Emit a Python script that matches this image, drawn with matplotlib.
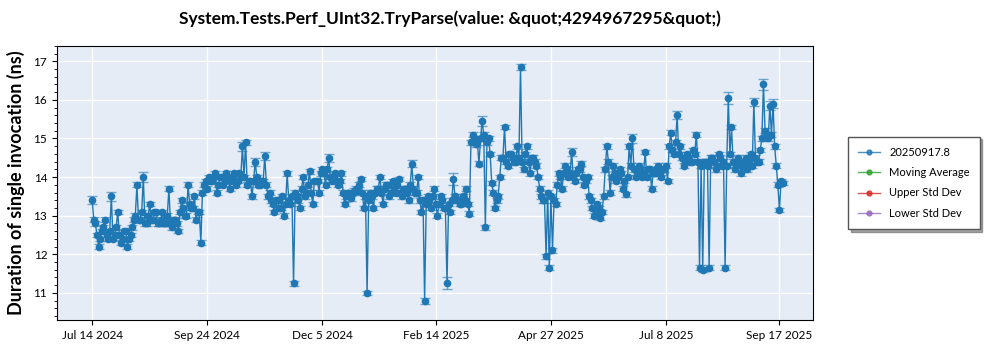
import numpy as np
import pandas as pd
import matplotlib
matplotlib.use("Agg")
import matplotlib.pyplot as plt
from matplotlib.lines import Line2D

plt.rcParams["font.family"] = ["Lato", "DejaVu Sans"]

# daily runs, Jul 14 2024 .. Sep 17 2025
first_run = "2024-07-14"

# runs on even days (counted from the first run)
even_runs = [
    13.4, 12.8, 12.2, 12.6, 12.9, 12.4, 13.5, 12.5, 13.1, 12.3,
    12.6, 12.2, 12.5, 12.9, 13.8, 12.9, 14.0, 12.8, 13.3, 12.9,
    13.1, 12.8, 13.1, 12.8, 13.7, 12.7, 12.9, 12.6, 13.4, 13.0,
    13.8, 13.2, 13.5, 13.1, 12.3, 13.8, 13.7, 13.9, 14.0, 13.6,
    14.0, 13.8, 14.1, 13.7, 14.0, 13.8, 14.1, 14.8, 14.9, 13.9,
    13.5, 14.4, 13.8, 13.9, 14.55, 13.5, 13.4, 13.1, 13.4, 13.2,
    13.0, 14.1, 13.3, 11.25, 13.5, 13.2, 14.0, 13.6, 14.15, 13.3,
    13.9, 13.6, 14.2, 13.8, 14.5, 13.9, 14.1, 13.8, 14.1, 13.3,
    13.6, 13.45, 13.65, 13.65, 13.95, 13.2, 11.0, 13.6, 13.2, 13.7,
    14.0, 13.3, 13.8, 13.5, 13.9, 13.6, 13.95, 13.5, 13.7, 13.4,
    14.35, 13.6, 14.0, 13.1, 10.8, 13.5, 13.2, 13.7, 13.0, 13.5,
    13.2, 11.25, 13.1, 13.95, 13.4, 13.3, 13.5, 13.7, 13.05, 15.1,
    14.85, 14.35, 15.45, 12.7, 15.0, 13.85, 13.2, 13.5, 14.5, 15.3,
    14.3, 14.6, 14.4, 14.8, 16.85, 14.2, 14.8, 14.1, 14.5, 14.3,
    13.7, 13.4, 11.95, 11.65, 12.1, 13.3, 14.1, 13.7, 14.3, 14.0,
    14.65, 13.9, 14.2, 14.35, 13.8, 14.0, 13.4, 13.0, 13.3, 12.95,
    13.5, 14.8, 13.6, 14.3, 13.9, 14.2, 13.7, 13.55, 14.8, 15.0,
    14.0, 14.3, 14.0, 14.65, 14.2, 13.7, 14.1, 14.3, 14.0, 14.2,
    13.9, 15.15, 14.6, 15.6, 14.8, 14.3, 14.6, 14.4, 14.7, 15.1,
    11.65, 11.6, 14.4, 11.65, 14.5, 14.2, 14.6, 14.3, 11.65, 16.05,
    15.3, 14.2, 14.5, 14.1, 14.4, 14.2, 14.6, 15.95, 14.4, 14.7,
    16.4, 15.1, 15.85, 15.9, 14.3, 13.15, 13.85,
]

# runs on odd days
odd_runs = [
    12.9, 12.5, 12.4, 12.7, 12.5, 12.6, 12.4, 12.7, 12.5, 12.4,
    12.6, 12.4, 12.7, 13.0, 12.9, 13.1, 12.8, 13.0, 12.9, 13.1,
    12.8, 12.9, 12.8, 13.0, 12.8, 12.9, 12.8, 13.1, 13.2, 13.0,
    13.3, 13.2, 12.9, 13.1, 13.6, 13.9, 14.0, 13.9, 14.1, 13.8,
    14.0, 13.9, 14.0, 13.9, 14.1, 13.9, 14.0, 14.0, 13.8, 13.9,
    13.9, 14.0, 13.8, 13.9, 13.8, 13.6, 13.3, 13.4, 13.2, 13.5,
    13.3, 13.4, 13.5, 13.6, 13.4, 13.7, 13.5, 13.8, 13.6, 13.9,
    13.9, 14.1, 14.1, 14.2, 14.0, 14.0, 13.9, 13.9, 13.6, 13.5,
    13.5, 13.6, 13.7, 13.8, 13.6, 13.5, 13.4, 13.5, 13.6, 13.7,
    13.6, 13.7, 13.8, 13.6, 13.7, 13.8, 13.6, 13.7, 13.6, 13.8,
    13.7, 13.6, 13.4, 13.4, 13.3, 13.4, 13.5, 13.3, 13.3, 13.4,
    13.2, 13.3, 13.4, 13.5, 13.4, 13.3, 13.4, 13.3, 14.9, 15.0,
    14.9, 15.0, 15.1, 14.9, 14.6, 13.6, 13.4, 14.0, 14.5, 14.4,
    14.6, 14.5, 14.4, 14.5, 14.4, 14.6, 14.4, 14.5, 14.4, 14.0,
    13.5, 13.4, 13.6, 13.5, 13.4, 13.8, 14.0, 14.1, 14.2, 14.1,
    14.0, 14.1, 14.2, 14.0, 13.9, 13.5, 13.2, 13.1, 13.2, 13.1,
    14.2, 14.4, 14.0, 14.1, 14.0, 14.1, 13.9, 14.0, 14.3, 14.2,
    14.1, 14.2, 14.1, 14.0, 14.2, 14.1, 14.2, 14.1, 14.2, 14.3,
    14.8, 14.7, 14.9, 14.6, 14.5, 14.4, 14.5, 14.4, 14.6, 14.4,
    14.3, 14.4, 14.3, 14.5, 14.4, 14.3, 14.5, 14.4, 14.3, 14.6,
    14.4, 14.3, 14.4, 14.3, 14.5, 14.4, 14.3, 14.5, 14.4, 15.0,
    15.2, 15.0, 15.1, 14.8, 13.8, 13.9,
]

# std dev per run: small, a bit wider on the spikes (keys are even-run indices)
base_err = 0.06
wide_err = {0: 0.1, 6: 0.12, 16: 0.12, 47: 0.12, 51: 0.1, 54: 0.1, 74: 0.1,
            100: 0.1, 104: 0.08, 111: 0.15, 113: 0.15, 122: 0.12, 134: 0.08,
            150: 0.1, 169: 0.12, 183: 0.1, 199: 0.15, 207: 0.1, 210: 0.15,
            212: 0.12, 213: 0.12}

tick_labels = ["Jul 14 2024", "Sep 24 2024", "Dec 5 2024", "Feb 14 2025",
               "Apr 27 2025", "Jul 8 2025", "Sep 17 2025"]

legend_names = ["20250917.8", "Moving Average", "Upper Std Dev", "Lower Std Dev"]
legend_colors = ["#1f77b4", "#2ca02c", "#d62728", "#9467bd"]

# merge even/odd runs into one daily series
durations = []
errs = []
for i, v in enumerate(even_runs):
    durations.append(v)
    errs.append(wide_err.get(i, base_err))
    if i < len(odd_runs):
        durations.append(odd_runs[i])
        errs.append(base_err)
dates = pd.date_range(first_run, periods=len(durations), freq="D")

fig = plt.figure(figsize=(10, 3.5), dpi=100)
ax = fig.add_axes([0.057, 0.086, 0.756, 0.783])
ax.set_facecolor("#e5ecf6")
ax.grid(True, color="white", linewidth=1)
ax.set_axisbelow(True)

ax.errorbar(dates, durations, yerr=errs, fmt="none", ecolor="#1f77b4",
            elinewidth=1, capsize=3.5, alpha=0.6, zorder=2)
ax.plot(dates, durations, color="#1f77b4", linewidth=1, marker="o",
        markersize=4.5, zorder=3)

ax.set_ylim(10.3, 17.4)
ax.set_yticks(range(11, 18))
ax.yaxis.set_minor_locator(matplotlib.ticker.MultipleLocator(0.2))
ax.tick_params(axis="both", labelsize=8.5)
ax.tick_params(axis="y", which="minor", length=2)

tick_dates = pd.to_datetime(tick_labels, format="%b %d %Y")
ax.set_xticks(tick_dates)
ax.set_xticklabels(tick_labels)
ax.set_xlim(pd.Timestamp("2024-06-22"), pd.Timestamp("2025-10-08"))

for sp in ax.spines.values():
    sp.set_color("black")

ax.set_ylabel("Duration of single invocation (ns)", fontsize=13, fontweight="bold",
              labelpad=6)
fig.suptitle("System.Tests.Perf_UInt32.TryParse(value: &quot;4294967295&quot;)",
             fontsize=12.5, fontweight="bold", x=0.45, y=0.97)

handles = [Line2D([], [], color=c, marker="o", markersize=3.5, linewidth=1, alpha=0.8)
           for c in legend_colors]
leg = fig.legend(handles, legend_names, loc="upper left", bbox_to_anchor=(0.848, 0.61),
                 borderaxespad=0, fontsize=8, frameon=True, fancybox=False, shadow=True,
                 edgecolor="#555555", borderpad=0.9, labelspacing=0.85, handlelength=2)

fig.savefig("out.png", dpi=100)
